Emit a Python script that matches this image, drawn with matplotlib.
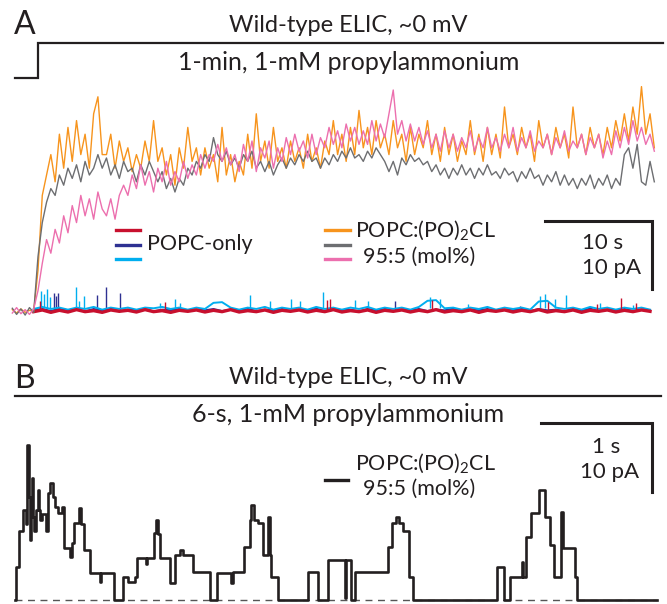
import matplotlib
matplotlib.use("Agg")
import matplotlib.pyplot as plt
from matplotlib.lines import Line2D
import numpy as np

# ---- panel A: 1-min application, sampled every 0.4 s from -2.4 s ----
a_t0, a_dt = -2.4, 0.4
orange = [0.2, -0.3, 0.3, -0.2, 0.1, 0.0, 6, 17, 20, 23,
          19, 26, 21, 27, 22, 28, 23, 26, 21, 29,
          31.5, 23, 23, 26, 21, 25, 22, 24, 20.5, 23,
          21, 25, 22, 28, 22, 24, 20, 23, 18.5, 24,
          21, 27, 22, 24, 20, 24, 21, 23, 19, 27,
          20, 23, 19, 22, 20, 26, 21, 29, 22, 25,
          21, 27, 22, 24, 21, 25, 22, 24, 21, 26,
          22, 24, 21, 25, 23, 28, 23, 26, 22, 27,
          23, 29.5, 24, 27, 23, 28, 24, 26, 23, 28,
          24, 26, 22, 27, 23, 26, 24, 28, 23, 26,
          22, 27, 23, 26, 22, 25, 23, 28, 23, 26,
          22, 27, 23, 26, 22.5, 30, 24, 26, 23, 27,
          24, 26, 22, 28, 24, 26, 23, 27, 24, 26,
          22.5, 30, 24, 26, 23, 27, 24, 26, 23, 27,
          24, 28, 25, 29, 25, 30, 26, 33, 26, 29,
          24]
gray = [0.4, -0.5, 0.3, -0.6, 0.5, -0.2, 8, 13, 16, 18,
        17, 20, 18.5, 21, 19.5, 21.5, 19, 22, 20, 21,
        23, 21, 22.5, 20, 21.5, 19.5, 22, 20.5, 21, 19,
        21.5, 20, 22, 20.5, 19, 20.5, 18, 19.5, 17.5, 19.5,
        18.5, 21, 20, 22, 21, 23, 22, 25.5, 23, 22,
        23.5, 21.5, 22.5, 21, 23, 22, 23.5, 21, 22, 20.5,
        22, 20, 21.5, 22.5, 21, 22.5, 21.5, 23, 22, 23.5,
        22, 22.5, 21, 22.5, 21.5, 23, 22, 23.5, 22.5, 24,
        22.5, 23, 22, 23.5, 22.5, 24, 23, 22, 20.5, 22,
        20, 22.5, 21.5, 23, 22, 22.5, 21.5, 22, 20.5, 21.5,
        20, 21, 19.5, 21, 20, 21.5, 20, 21, 19.5, 21,
        20, 21.5, 20, 20.5, 19.5, 21, 20, 20.5, 19, 20.5,
        19.5, 21, 19.5, 20, 18.5, 20, 19, 20.5, 18.5, 20,
        18.5, 19.5, 18, 19.5, 18.5, 20, 18, 19.5, 18.5, 20,
        18, 19.5, 18.5, 23, 24, 21, 24.5, 19, 18.5, 22,
        19]
pink = [-0.3, 0.5, -0.4, 0.2, -0.5, 0.3, 3, 7, 10.5, 8.5,
        12, 10, 14, 11.5, 15.5, 13, 17, 14, 16.5, 13.5,
        17.5, 15, 14, 16.5, 13.5, 17, 18.5, 17, 20, 18,
        21.5, 18.5, 20.5, 17.5, 21, 19, 22, 18.5, 20.5, 19,
        22, 19.5, 21.5, 20, 23, 21, 23, 22, 24.5, 22,
        24, 21.5, 23, 20.5, 24.5, 22, 25, 20.5, 24, 22.5,
        25, 21, 24, 22, 25.5, 23, 26, 23.5, 25, 22.5,
        26, 23, 25.5, 24, 27, 24.5, 26.5, 24, 27.5, 25,
        27, 24.5, 26.5, 24.5, 28, 25, 27.5, 25.5, 29, 32.5,
        26, 28, 25, 27.5, 25, 27, 24.5, 26.5, 24, 26,
        23.5, 26.5, 24, 26, 23.5, 25.5, 24, 26.5, 23.5, 25.5,
        24, 27, 24, 25.5, 23.5, 26, 24, 27, 23.5, 25.5,
        24, 26.5, 23.5, 25, 24, 26, 23, 25.5, 24, 26.5,
        23.5, 25, 24, 26, 23, 25.5, 24, 26, 22.5, 25,
        23, 26.5, 24, 27, 24.5, 28, 25, 27, 24.5, 26,
        23.5]

# POPC-only traces, sampled every 0.8 s from -0.4 s
p_t0, p_dt = -0.4, 0.8
red = [-0.1, 0.15, -0.2, 0.1, -0.15, 0.2, -0.1, 0.05, -0.2, 0.15,
       -0.05, 0.1, -0.15, 0.2, -0.1, 0.05, -0.2, 0.1, -0.05, 0.15,
       -0.15, 0.1, -0.1, 0.2, -0.15, 0.05, -0.1, 0.15, -0.2, 0.1,
       -0.05, 0.15, -0.15, 0.1, -0.1, 0.2, -0.15, 0.05, -0.1, 0.15,
       -0.2, 0.1, -0.05, 0.15, -0.15, 0.1, -0.1, 0.2, -0.15, 0.05,
       -0.1, 0.15, -0.2, 0.1, -0.05, 0.15, -0.15, 0.1, -0.1, 0.2,
       -0.15, 0.05, -0.1, 0.15, -0.2, 0.1, -0.05, 0.15, -0.15, 0.1,
       -0.1, 0.15, -0.05]
navy = [0.1, 0.3, 0.0, 0.35, 0.1, 0.2, -0.05, 0.3, 0.1, 0.35,
        0.0, 0.2, 0.1, 0.3, -0.05, 0.2, 0.1, 0.35, 0.0, 0.2,
        0.1, 0.3, 0.0, 0.2, 0.1, 0.35, -0.05, 0.2, 0.1, 0.3,
        0.0, 0.2, 0.1, 0.35, 0.0, 0.3, 0.1, 0.2, -0.05, 0.3,
        0.1, 0.35, 0.0, 0.2, 0.1, 0.3, 0.0, 0.2, 0.1, 0.35,
        -0.05, 0.2, 0.1, 0.3, 0.0, 0.2, 0.1, 0.35, 0.0, 0.3,
        0.1, 0.2, -0.05, 0.3, 0.1, 0.35, 0.0, 0.2, 0.1, 0.3,
        0.0, 0.2, 0.1]
cyan = [0.3, 0.6, 0.3, 0.5, 0.2, 0.5, 0.3, 0.6, 0.2, 0.5,
        0.3, 0.5, 0.2, 0.5, 0.4, 0.6, 0.3, 0.5, 0.2, 0.5,
        0.3, 1.2, 1.3, 0.5, 0.2, 0.5, 0.3, 0.6, 0.2, 0.5,
        0.3, 0.5, 0.2, 0.6, 0.3, 0.5, 0.2, 0.5, 0.3, 0.6,
        0.2, 0.5, 0.3, 0.5, 0.2, 0.6, 1.5, 1.6, 0.4, 0.5,
        0.2, 0.5, 0.3, 0.6, 0.2, 0.5, 0.3, 0.5, 0.2, 1.4,
        1.5, 0.5, 0.3, 0.5, 0.2, 0.6, 0.3, 0.5, 0.2, 0.5,
        0.3, 0.5, 0.2]
# brief openings (time s, peak pA)
cyan_spk_t = [0.28, 0.56, 0.84, 1.12, 3.55, 3.83, 4.3, 11.4, 12.8, 13.3, 19.8, 21.7,
              23.6, 24.5, 26.6, 29.6, 30.8, 36.6, 37.6, 40.2, 46.9, 47.4, 48.3, 49.3,
              52.5, 55.6]
cyan_spk_i = [3.0, 2.5, 3.2, 2.0, 3.5, 1.5, 2.2, 1.2, 1.8, 1.2, 2.3, 1.5,
              1.8, 1.4, 2.8, 1.6, 1.5, 2.0, 1.8, 1.0, 2.2, 2.5, 1.8, 2.3,
              1.2, 0.9]
navy_spk_t = [1.5, 1.7, 1.9, 5.5, 6.4, 7.7, 33.4, 45.0]
navy_spk_i = [2.7, 2.2, 2.7, 2.3, 3.5, 2.6, 1.5, 0.8]
red_spk_t = [0.2, 11.9, 27.0, 27.3, 36.8, 47.7, 52.2, 54.5, 55.9]
red_spk_i = [1.5, 1.3, 1.6, 1.8, 1.6, 1.3, 1.0, 1.9, 1.2]

# ---- panel B: 6-s application, idealised step record (time s, pA) ----
b_t = [0.0, 0.009, 0.036, 0.072, 0.099, 0.108, 0.122, 0.135, 0.144, 0.153,
       0.162, 0.171, 0.189, 0.207, 0.216, 0.225, 0.243, 0.279, 0.297, 0.315,
       0.342, 0.36, 0.387, 0.423, 0.441, 0.495, 0.514, 0.532, 0.577, 0.595,
       0.622, 0.676, 0.766, 0.775, 0.892, 0.973, 1.018, 1.081, 1.099, 1.18,
       1.189, 1.252, 1.27, 1.288, 1.306, 1.396, 1.441, 1.486, 1.514, 1.604,
       1.757, 1.82, 1.946, 1.964, 2.063, 2.117, 2.126, 2.153, 2.189, 2.234,
       2.279, 2.297, 2.306, 2.369, 2.640, 2.730, 2.820, 2.973, 2.982, 3.027,
       3.063, 3.360, 3.396, 3.432, 3.459, 3.495, 3.550, 3.586, 4.342, 4.405,
       4.459, 4.568, 4.577, 4.604, 4.649, 4.721, 4.748, 4.775, 4.820, 4.856,
       4.919, 4.937, 4.955, 5.045, 5.063, 5.784]
b_i = [0.0, 4.8, 10.0, 13.0, 11.0, 22.5, 15.0, 8.7, 13.0, 17.7,
       12.0, 10.0, 13.0, 16.0, 13.0, 11.6, 12.5, 10.0, 15.5, 17.0,
       15.0, 13.5, 12.6, 13.5, 7.5, 6.2, 8.2, 11.2, 13.3, 11.0,
       7.2, 3.9, 2.6, 3.9, 0.0, 3.3, 2.6, 3.3, 6.1, 5.2,
       6.1, 9.7, 11.6, 9.5, 6.1, 2.5, 6.5, 7.3, 6.5, 4.1,
       0.0, 3.9, 2.5, 4.1, 7.7, 11.6, 13.8, 11.6, 11.2, 6.5,
       12.0, 6.5, 3.3, 0.0, 4.1, 0.0, 5.8, 0.3, 5.8, 0.0,
       4.1, 7.7, 11.2, 12.0, 11.2, 10.0, 3.3, 0.0, 4.8, 0.0,
       3.3, 5.5, 3.3, 9.1, 12.6, 16.0, 16.0, 12.0, 8.0, 3.3,
       12.8, 7.5, 7.5, 3.3, 0.0, 0.0]

SCALE_A_T, SCALE_B_T, SCALE_I = 10, 1, 10

ink = "#231F20"
c_orange, c_gray, c_pink = "#F7941D", "#6D6E71", "#EC6FAE"
c_red, c_navy, c_cyan = "#C8102E", "#2E3192", "#00AEEF"

plt.rcParams['font.family'] = ['Lato', 'DejaVu Sans']
plt.rcParams['mathtext.fontset'] = 'custom'
plt.rcParams['mathtext.rm'] = 'Lato'

W, H = 667, 604
fig = plt.figure(figsize=(W / 100, H / 100), dpi=100)


def fx(x):
    return x / W


def fy(y):
    return 1 - y / H


# panel A axes covers pixel rows 0..360, panel B rows 360..604
axA = fig.add_axes([0, fy(360), 1, 360 / H])
axB = fig.add_axes([0, 0, 1, 244 / H])
for ax in (axA, axB):
    ax.set_axis_off()

# A: 10.7 px per s (t=0 at x=38), 6.8 px per pA (0 at y=311)
axA.set_xlim((0 - 38) / 10.7, (W - 38) / 10.7)
axA.set_ylim((311 - 360) / 6.8, 311 / 6.8)
# B: 111 px per s (t=0 at x=15), 6.9 px per pA (0 at y=600)
axB.set_xlim(-15 / 111, (W - 15) / 111)
axB.set_ylim((600 - 604) / 6.9, (600 - 360) / 6.9)

tA = a_t0 + a_dt * np.arange(len(orange))
tP = p_t0 + p_dt * np.arange(len(red))

axA.plot(tP, navy, color=c_navy, lw=1.4)
axA.vlines(navy_spk_t, 0.2, navy_spk_i, color=c_navy, lw=1.0)
axA.plot(tP, cyan, color=c_cyan, lw=1.4)
axA.vlines(cyan_spk_t, 0.4, cyan_spk_i, color=c_cyan, lw=1.0)
axA.plot(tP, red, color=c_red, lw=2.4)
axA.vlines(red_spk_t, 0.0, red_spk_i, color=c_red, lw=1.0)
axA.plot(tA, orange, color=c_orange, lw=1.0)
axA.plot(tA, gray, color=c_gray, lw=1.0)
axA.plot(tA, pink, color=c_pink, lw=1.0)

# stimulus step (A)
axA.plot([-2.15, 0, 0, 58.4], [34.3, 34.3, 39.4, 39.4], color=ink, lw=1.6,
         solid_joinstyle='miter')

# scale bars
sx, sy = 57.38, 13.3
axA.plot([sx - SCALE_A_T, sx, sx], [sy, sy, sy - SCALE_I], color=ink, lw=2.2,
         solid_joinstyle='miter')
bx, by = 5.74, 25.65
axB.plot([bx - SCALE_B_T, bx, bx], [by, by, by - SCALE_I], color=ink, lw=2.2,
         solid_joinstyle='miter')

# B trace
axB.axhline(0, xmin=fx(15), xmax=fx(657), color="#555555", lw=1.0,
            ls=(0, (5, 4)))
axB.plot(b_t, b_i, drawstyle='steps-post', color=ink, lw=1.9)
axB.plot([0, 5.82], [29.5, 29.5], color=ink, lw=1.6)

# legends
for yy, c in [(230, c_red), (245, c_navy), (259, c_cyan)]:
    fig.add_artist(Line2D([fx(116), fx(140)], [fy(yy), fy(yy)], color=c, lw=2.4))
for yy, c in [(230, c_orange), (245, c_gray), (259, c_pink)]:
    fig.add_artist(Line2D([fx(325), fx(350)], [fy(yy), fy(yy)], color=c, lw=2.4))
fig.add_artist(Line2D([fx(325), fx(348)], [fy(480), fy(480)], color=ink, lw=2.4))

fs_title, fs_sub, fs = 17, 18, 15.5
cl = r"POPC:(PO)$_\mathregular{2}$CL"
fig.text(fx(14), fy(25), "A", fontsize=23, color=ink, va='center')
fig.text(fx(348), fy(25), "Wild-type ELIC, ~0 mV", fontsize=fs_title, color=ink,
         ha='center', va='center')
fig.text(fx(349), fy(62), "1-min, 1-mM propylammonium", fontsize=fs_sub,
         color=ink, ha='center', va='center')
fig.text(fx(147), fy(244), "POPC-only", fontsize=fs, color=ink, va='center')
fig.text(fx(355), fy(231), cl, fontsize=fs, color=ink, va='center')
fig.text(fx(363), fy(257), "95:5 (mol%)", fontsize=fs, color=ink, va='center')
fig.text(fx(582), fy(243), "10 s", fontsize=16, color=ink, va='center')
fig.text(fx(582), fy(268), "10 pA", fontsize=16, color=ink, va='center')

fig.text(fx(14), fy(379), "B", fontsize=23, color=ink, va='center')
fig.text(fx(348), fy(378), "Wild-type ELIC, ~0 mV", fontsize=fs_title, color=ink,
         ha='center', va='center')
fig.text(fx(348), fy(414), "6-s, 1-mM propylammonium", fontsize=fs_sub,
         color=ink, ha='center', va='center')
fig.text(fx(355), fy(464), cl, fontsize=fs, color=ink, va='center')
fig.text(fx(363), fy(489), "95:5 (mol%)", fontsize=fs, color=ink, va='center')
fig.text(fx(606), fy(447), "1 s", fontsize=16, color=ink, ha='center', va='center')
fig.text(fx(610), fy(472), "10 pA", fontsize=16, color=ink, ha='center', va='center')

fig.savefig("out.png", dpi=100)
